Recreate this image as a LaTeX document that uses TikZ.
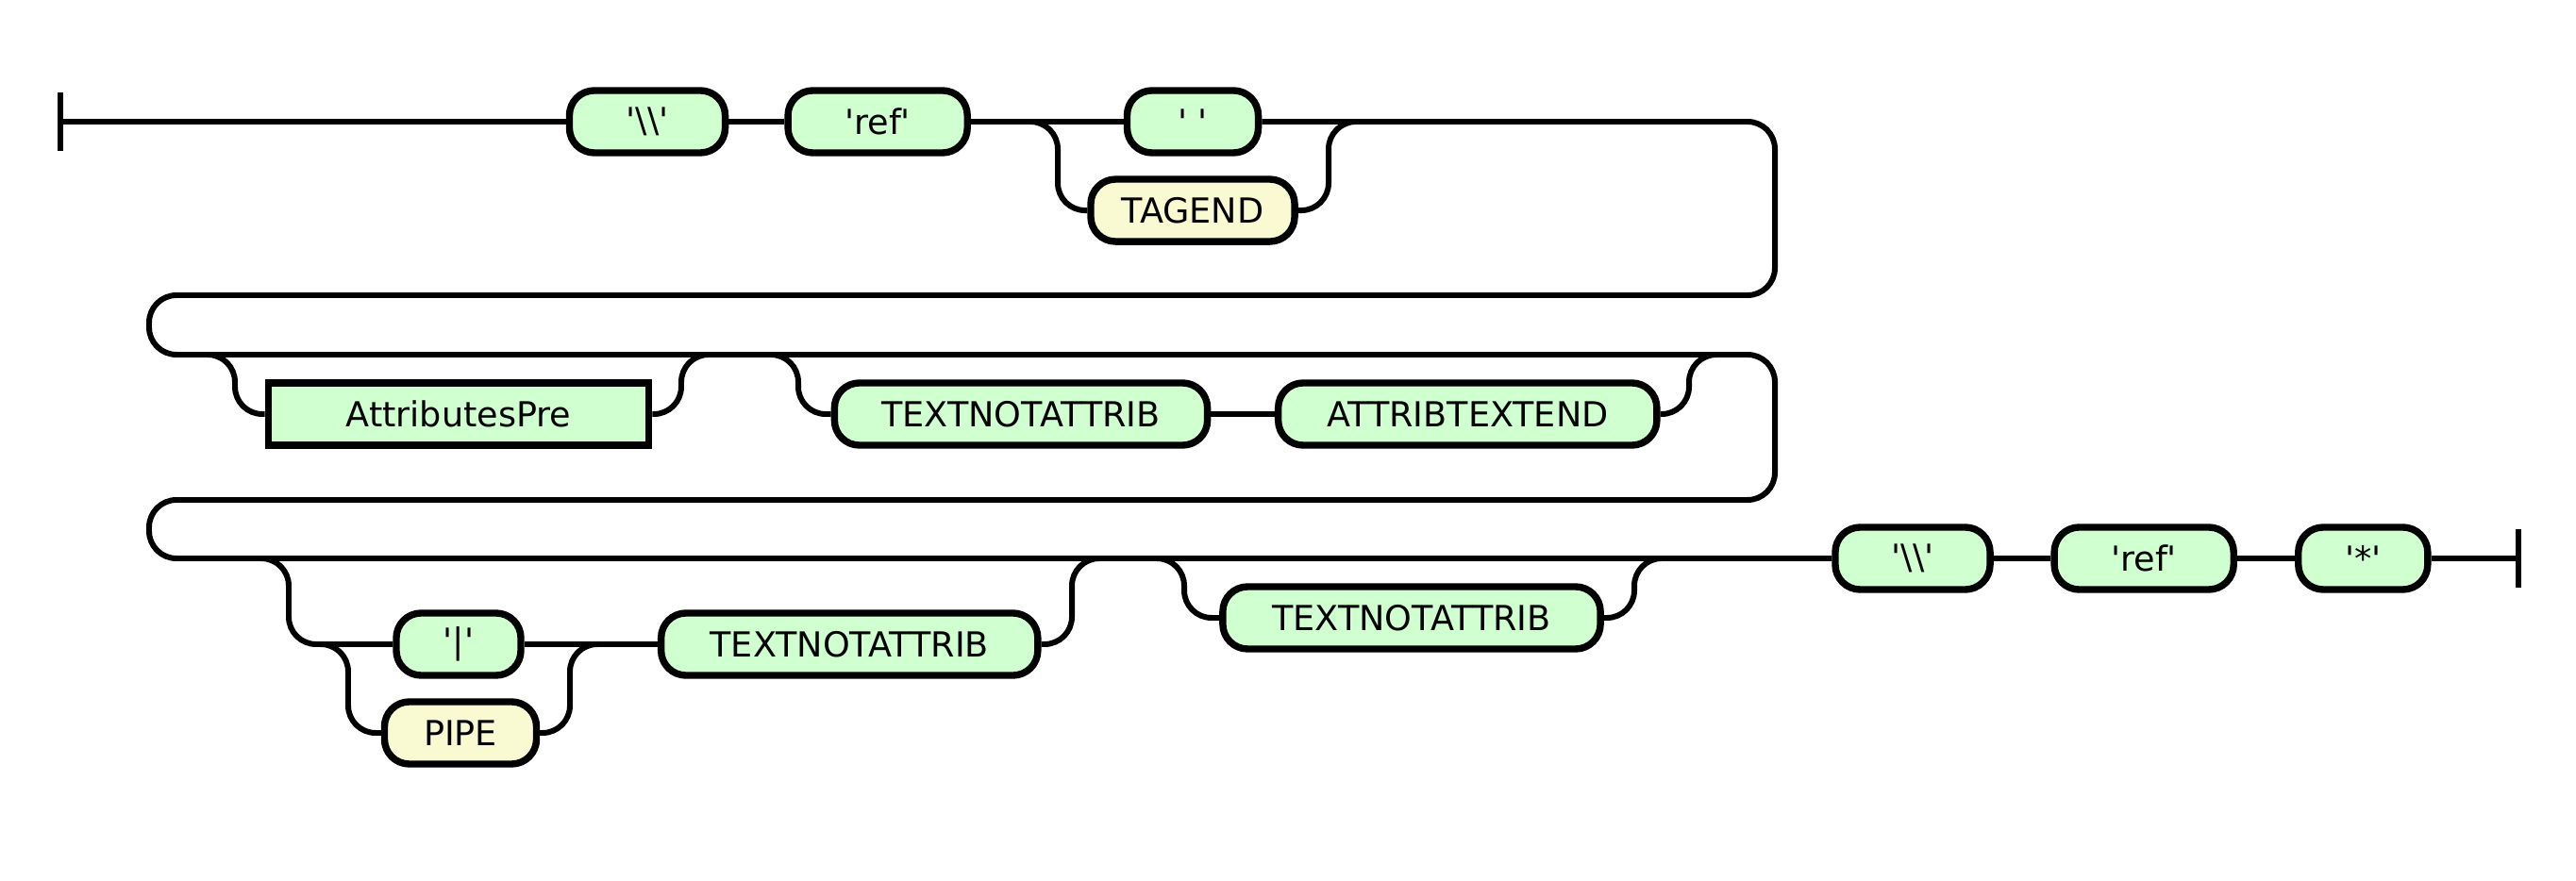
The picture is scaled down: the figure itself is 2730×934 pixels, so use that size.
\documentclass[tikz,border=0pt]{standalone}
\usepackage{fontspec}
\newfontfamily\railfont{DejaVu Sans}
\usetikzlibrary{shapes,positioning}
\definecolor{termgreen}{HTML}{D0FFD0}
\definecolor{tokyellow}{HTML}{FAFAD2}

\begin{document}
\begin{tikzpicture}[x=0.01cm, y=-0.01cm, node distance=2cm, auto]
\tikzstyle{term} = [rectangle, draw, line width=2.1pt, fill=termgreen, rounded corners=7.5pt, minimum height=0.66cm, inner sep=2pt, font=\railfont\fontsize{10.4}{12}\selectfont]
\tikzstyle{token} = [term, fill=tokyellow]
\tikzstyle{rule} = [term, sharp corners]
\tikzstyle{line} = [draw, line width=1.7pt, rounded corners=0.29cm]
\tikzstyle{stopbar} = [draw, line width=1.8pt]

\useasboundingbox (0,0) rectangle (2730,934);

% first row
\node [term, minimum width=1.65cm] (bs1) at (686,129) {'\textbackslash\textbackslash'};
\node [term, minimum width=1.90cm, right of=bs1, node distance=2.44cm] (ref1) {'ref'};
\node [term, minimum width=1.39cm] (space) at (1264,129) {' '};
\node [token, minimum width=2.16cm, below of=space, node distance=0.94cm] (tagend) {TAGEND};

% second row
\node [rule, minimum width=4.03cm] (attrpre) at (486,439) {AttributesPre};
\node [term, minimum width=3.95cm] (textna1) at (1082,439) {TEXTNOTATTRIB};
\node [term, minimum width=4.01cm, right of=textna1, node distance=4.73cm] (attrend) {ATTRIBTEXTEND};

% third row
\node [term, minimum width=1.32cm] (pipech) at (486,683) {'|'};
\node [token, minimum width=1.61cm] (pipetok) at (488,777) {PIPE};
\node [term, minimum width=3.99cm, right of=pipech, node distance=4.14cm] (textna2) {TEXTNOTATTRIB};
\node [term, minimum width=4.00cm] (textna3) at (1496,655) {TEXTNOTATTRIB};
\node [term, minimum width=1.64cm] (bs2) at (2027,592) {'\textbackslash\textbackslash'};
\node [term, minimum width=1.90cm, right of=bs2, node distance=2.45cm] (ref2) {'ref'};
\node [term, minimum width=1.37cm, right of=ref2, node distance=2.32cm] (star) {'*'};

\coordinate (begin) at (64,129);
\coordinate (finish) at (2669,592);
\coordinate (tagin) at (1121,129);
\coordinate (tagout) at (1408,129);
\coordinate (attrin) at (249,376);
\coordinate (attrout) at (722,376);
\coordinate (textin) at (846,376);
\coordinate (textout) at (1790,376);
\coordinate (pipein) at (306,592);
\coordinate (tokin) at (369,683);
\coordinate (tokout) at (604,683);
\coordinate (pipeout) at (1136,592);
\coordinate (lastin) at (1255,592);
\coordinate (lastout) at (1732,592);

\path [stopbar] (begin) ++(0,-31) -- ++(0,62);
\path [stopbar] (finish) ++(0,-31) -- ++(0,62);

\path [line] (begin) -- (bs1);
\path [line] (bs1) -- (ref1);
\path [line] (ref1) -- (space);
\path [line] (space) -- (1881,129) -- (1881,313) -- (158,313) -- (158,376) -- (1881,376) -- (1881,530) -- (158,530) -- (158,592) -- (bs2);
\path [line] (bs2) -- (ref2);
\path [line] (ref2) -- (star);
\path [line] (star) -- (finish);

\path [line] (ref1.east) -- (tagin) |- (tagend.west);
\path [line] (tagend.east) -| (tagout) -- ++(40,0);

\path [line] (attrin) ++(-40,0) -- (attrin) |- (attrpre.west);
\path [line] (attrpre.east) -| (attrout) -- ++(40,0);
\path [line] (textin) ++(-40,0) -- (textin) |- (textna1.west);
\path [line] (textna1) -- (attrend);
\path [line] (attrend.east) -| (textout) -- ++(40,0);

\path [line] (pipein) ++(-40,0) -- (pipein) |- (pipech.west);
\path [line] (tokin) ++(-30,0) -- (tokin) |- (pipetok.west);
\path [line] (pipetok.east) -| (tokout) -- ++(30,0);
\path [line] (pipech) -- (textna2);
\path [line] (textna2.east) -| (pipeout) -- ++(40,0);
\path [line] (lastin) ++(-40,0) -- (lastin) |- (textna3.west);
\path [line] (textna3.east) -| (lastout) -- ++(40,0);
\end{tikzpicture}
\end{document}
